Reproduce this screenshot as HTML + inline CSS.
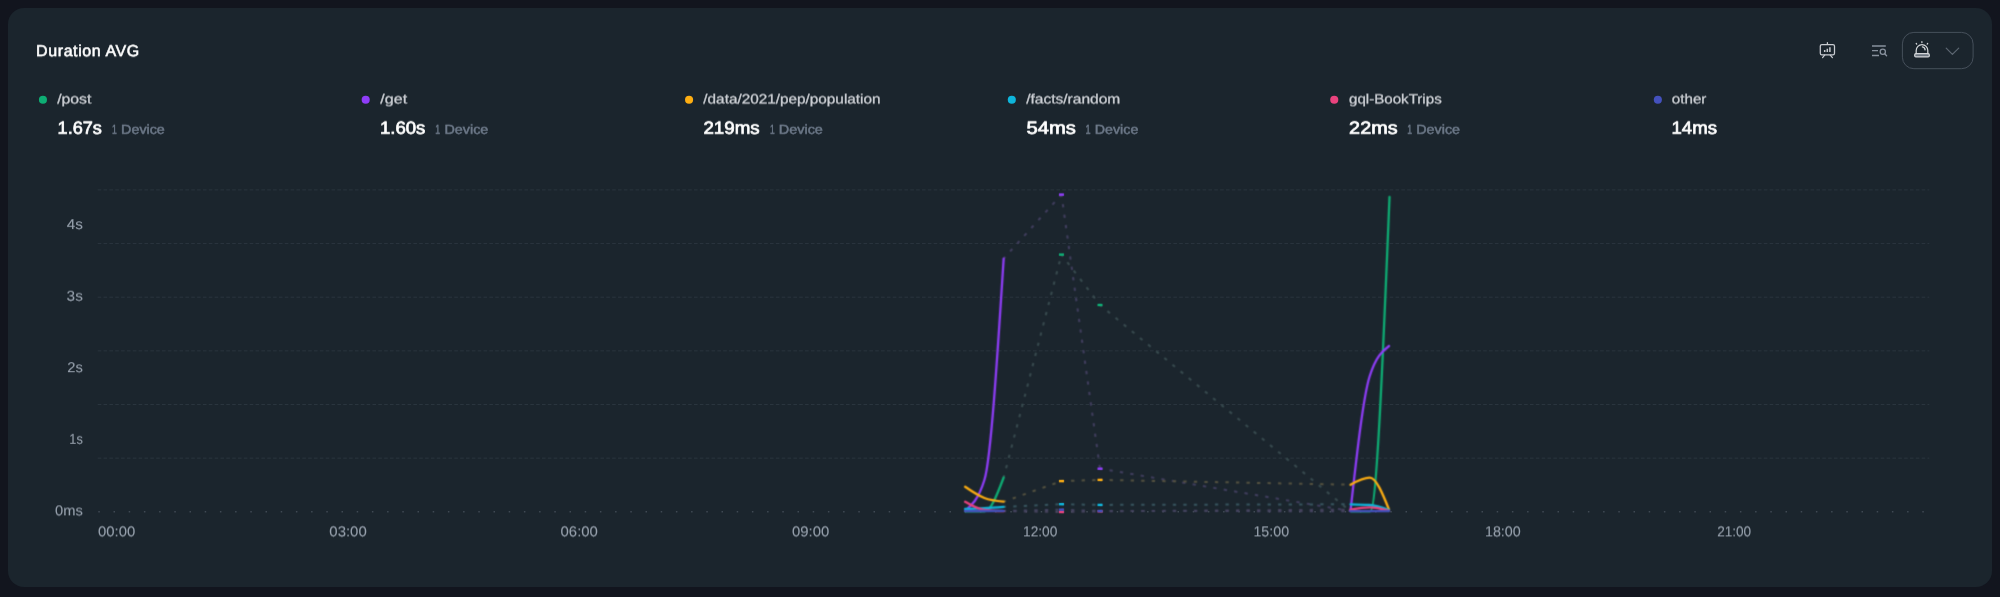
<!DOCTYPE html>
<html lang="en">
<head>
<meta charset="utf-8">
<title>Duration AVG</title>
<style>
*{box-sizing:border-box;margin:0;padding:0}
html,body{width:2000px;height:597px;overflow:hidden;background:#12151e}
body{font-family:"Liberation Sans",Arial,sans-serif;position:relative}
.card{position:absolute;left:7.5px;top:8px;width:1984.8px;height:578.6px;border-radius:16px;background:#1b252d}
svg{position:absolute;left:0;top:0}
text{font-family:"Liberation Sans",Arial,sans-serif;white-space:pre;text-rendering:geometricPrecision}
</style>
</head>
<body>
<div class="card"></div>
<svg width="2000" height="597" viewBox="0 0 2000 597">
<g class="grid">
<line x1="97.7" y1="189.90" x2="1929.3" y2="189.90" stroke="#2a353e" stroke-width="1" stroke-dasharray="3.6 2.246"/>
<line x1="97.7" y1="243.55" x2="1929.3" y2="243.55" stroke="#2a353e" stroke-width="1" stroke-dasharray="3.6 2.246"/>
<line x1="97.7" y1="297.20" x2="1929.3" y2="297.20" stroke="#2a353e" stroke-width="1" stroke-dasharray="3.6 2.246"/>
<line x1="97.7" y1="350.85" x2="1929.3" y2="350.85" stroke="#2a353e" stroke-width="1" stroke-dasharray="3.6 2.246"/>
<line x1="97.7" y1="404.50" x2="1929.3" y2="404.50" stroke="#2a353e" stroke-width="1" stroke-dasharray="3.6 2.246"/>
<line x1="97.7" y1="458.15" x2="1929.3" y2="458.15" stroke="#2a353e" stroke-width="1" stroke-dasharray="3.6 2.246"/>
<line x1="98.3" y1="511.80" x2="1926.0" y2="511.80" stroke="#3f4953" stroke-width="1.5" stroke-dasharray="1.5 13.7"/>
</g>
<g class="series" filter="url(#soft)">
<path d="M1003.67,477.50L1061.47,254.60" fill="none" stroke="#394c50" stroke-width="2.00" stroke-dasharray="3.30 7.23" stroke-dashoffset="0.90"/>
<path d="M1061.47,254.60L1100.01,305.00" fill="none" stroke="#394c50" stroke-width="2.00" stroke-dasharray="3.30 7.23" stroke-dashoffset="0.90"/>
<path d="M1100.01,305.00L1350.49,511.30" fill="none" stroke="#394c50" stroke-width="2.00" stroke-dasharray="3.30 7.23" stroke-dashoffset="0.90"/>
<path d="M1003.67,258.60L1061.47,194.60" fill="none" stroke="#423f60" stroke-width="2.00" stroke-dasharray="3.30 7.23" stroke-dashoffset="0.90"/>
<path d="M1061.47,194.60L1100.01,468.70" fill="none" stroke="#423f60" stroke-width="2.00" stroke-dasharray="3.30 7.23" stroke-dashoffset="0.90"/>
<path d="M1100.01,468.70L1350.49,511.00" fill="none" stroke="#423f60" stroke-width="2.00" stroke-dasharray="3.30 7.23" stroke-dashoffset="0.90"/>
<path d="M1003.67,501.70L1061.47,481.10" fill="none" stroke="#565340" stroke-width="2.00" stroke-dasharray="3.30 7.23" stroke-dashoffset="0.90"/>
<path d="M1061.47,481.10L1100.01,479.90" fill="none" stroke="#565340" stroke-width="2.00" stroke-dasharray="3.30 7.23" stroke-dashoffset="0.90"/>
<path d="M1100.01,479.90L1350.49,484.70" fill="none" stroke="#565340" stroke-width="2.00" stroke-dasharray="3.30 7.23" stroke-dashoffset="0.90"/>
<path d="M1003.67,506.85L1061.47,504.20" fill="none" stroke="#385660" stroke-width="2.00" stroke-dasharray="3.30 7.23" stroke-dashoffset="0.90"/>
<path d="M1061.47,504.20L1100.01,504.90" fill="none" stroke="#385660" stroke-width="2.00" stroke-dasharray="3.30 7.23" stroke-dashoffset="0.90"/>
<path d="M1100.01,504.90L1350.49,504.30" fill="none" stroke="#385660" stroke-width="2.00" stroke-dasharray="3.30 7.23" stroke-dashoffset="0.90"/>
<path d="M1003.67,511.10L1061.47,512.00" fill="none" stroke="#46425c" stroke-width="2.00" stroke-dasharray="3.30 7.23" stroke-dashoffset="0.90"/>
<path d="M1061.47,512.00L1100.01,511.30" fill="none" stroke="#46425c" stroke-width="2.00" stroke-dasharray="3.30 7.23" stroke-dashoffset="0.90"/>
<path d="M1100.01,511.30L1350.49,509.60" fill="none" stroke="#46425c" stroke-width="2.00" stroke-dasharray="3.30 7.23" stroke-dashoffset="0.90"/>
<path d="M1003.67,510.90L1061.47,509.70" fill="none" stroke="#454460" stroke-width="2.00" stroke-dasharray="3.30 7.23" stroke-dashoffset="0.90"/>
<path d="M1061.47,509.70L1100.01,511.00" fill="none" stroke="#454460" stroke-width="2.00" stroke-dasharray="3.30 7.23" stroke-dashoffset="0.90"/>
<path d="M1100.01,511.00L1350.49,511.20" fill="none" stroke="#454460" stroke-width="2.00" stroke-dasharray="3.30 7.23" stroke-dashoffset="0.90"/>
<path d="M965.14,511.30C971.56,511.30,977.98,511.30,984.40,511.30C990.83,511.30,997.25,494.40,1003.67,477.50" fill="none" stroke="#0eae74" stroke-width="2.30" stroke-linecap="round" stroke-linejoin="round"/>
<path d="M1350.99,511.30C1357.41,511.30,1363.83,511.30,1370.25,511.30C1376.68,511.30,1383.10,354.15,1389.52,197.00" fill="none" stroke="#0eae74" stroke-width="2.30" stroke-linecap="round" stroke-linejoin="round"/>
<path d="M965.14,510.60C971.56,505.50,977.98,500.40,984.40,480.00C990.83,459.60,997.25,359.10,1003.67,258.60" fill="none" stroke="#8f3df8" stroke-width="2.30" stroke-linecap="round" stroke-linejoin="round"/>
<path d="M1350.49,511.00C1356.91,453.50,1363.33,396.00,1369.75,376.00C1376.18,356.00,1382.60,351.00,1389.02,346.00" fill="none" stroke="#8f3df8" stroke-width="2.30" stroke-linecap="round" stroke-linejoin="round"/>
<path d="M965.14,486.75C971.56,491.14,977.98,495.53,984.40,498.00C990.83,500.47,997.25,501.08,1003.67,501.70" fill="none" stroke="#feae12" stroke-width="2.30" stroke-linecap="round" stroke-linejoin="round"/>
<path d="M1350.49,484.70C1356.91,481.20,1363.33,477.70,1369.75,477.70C1376.18,477.70,1382.60,493.65,1389.02,509.60" fill="none" stroke="#feae12" stroke-width="2.30" stroke-linecap="round" stroke-linejoin="round"/>
<path d="M965.14,509.00C971.56,508.78,977.98,508.56,984.40,508.20C990.83,507.84,997.25,507.35,1003.67,506.85" fill="none" stroke="#0eb5db" stroke-width="2.30" stroke-linecap="round" stroke-linejoin="round"/>
<path d="M1350.49,504.30C1356.91,504.42,1363.33,504.53,1369.75,505.00C1376.18,505.47,1382.60,507.73,1389.02,510.00" fill="none" stroke="#0eb5db" stroke-width="2.30" stroke-linecap="round" stroke-linejoin="round"/>
<path d="M965.14,501.80C971.56,505.53,977.98,509.27,984.40,510.00C990.83,510.73,997.25,510.92,1003.67,511.10" fill="none" stroke="#ea437e" stroke-width="2.30" stroke-linecap="round" stroke-linejoin="round"/>
<path d="M1350.49,509.60C1356.91,508.50,1363.33,507.40,1369.75,507.40C1376.18,507.40,1382.60,509.10,1389.02,510.80" fill="none" stroke="#ea437e" stroke-width="2.30" stroke-linecap="round" stroke-linejoin="round"/>
<path d="M965.14,511.00C971.56,511.00,977.98,511.00,984.40,511.00C990.83,511.00,997.25,510.95,1003.67,510.90" fill="none" stroke="#4451bd" stroke-width="2.30" stroke-linecap="round" stroke-linejoin="round"/>
<path d="M1350.49,511.20C1356.91,511.15,1363.33,511.10,1369.75,511.10C1376.18,511.10,1382.60,511.10,1389.02,511.10" fill="none" stroke="#4451bd" stroke-width="2.30" stroke-linecap="round" stroke-linejoin="round"/>
</g>
<g class="markers" filter="url(#soft2)">
<rect x="1058.97" y="253.40" width="5.0" height="2.4" fill="#0eae74"/>
<rect x="1097.51" y="303.80" width="5.0" height="2.4" fill="#0eae74"/>
<rect x="1058.97" y="193.40" width="5.0" height="2.4" fill="#8f3df8"/>
<rect x="1097.51" y="467.50" width="5.0" height="2.4" fill="#8f3df8"/>
<rect x="1058.97" y="479.90" width="5.0" height="2.4" fill="#feae12"/>
<rect x="1097.51" y="478.70" width="5.0" height="2.4" fill="#feae12"/>
<rect x="1058.97" y="503.00" width="5.0" height="2.4" fill="#0eb5db"/>
<rect x="1097.51" y="503.70" width="5.0" height="2.4" fill="#0eb5db"/>
<rect x="1058.97" y="510.80" width="5.0" height="2.4" fill="#ea437e"/>
<rect x="1097.51" y="510.10" width="5.0" height="2.4" fill="#ea437e"/>
<rect x="1058.97" y="508.50" width="5.0" height="2.4" fill="#4451bd"/>
<rect x="1097.51" y="509.80" width="5.0" height="2.4" fill="#4451bd"/>
</g>
<g class="legend-dots">
<circle cx="42.95" cy="99.8" r="4.05" fill="#0eae74"/>
<circle cx="365.70" cy="99.8" r="4.05" fill="#8f3df8"/>
<circle cx="689.05" cy="99.8" r="4.05" fill="#feae12"/>
<circle cx="1011.80" cy="99.8" r="4.05" fill="#0eb5db"/>
<circle cx="1334.25" cy="99.8" r="4.05" fill="#ea437e"/>
<circle cx="1657.85" cy="99.8" r="4.05" fill="#4451bd"/>
</g>
<g class="toolbar">
<g fill="none" stroke="#c9ccd1" stroke-width="1.25" stroke-linecap="round" stroke-linejoin="round">
  <rect x="1820.3" y="44.5" width="14.2" height="10.4" rx="1.6"/>
  <path d="M1827.4 42.6V44.4M1824.6 55.2L1822.6 57.6M1830.3 55.2L1832.4 57.6"/>
  <path d="M1824.7 52V50.1M1827.3 52V48.7M1829.9 52V47.3" stroke-width="1.5" stroke-linecap="butt"/>
</g>
<g fill="none" stroke="#88919d" stroke-width="1.3" stroke-linecap="butt">
  <path d="M1872 46H1885.8M1872 50.7H1878M1872 55.5H1879"/>
  <circle cx="1882.8" cy="51.7" r="2.6"/>
  <path d="M1884.7 53.7L1886.6 55.7" stroke-linecap="round"/>
</g>
<rect x="1902.4" y="32.4" width="70.7" height="36.3" rx="11.5" fill="none" stroke="#46505b" stroke-width="1"/>
<g fill="none" stroke="#d3d6d9" stroke-width="1.25" stroke-linecap="round" stroke-linejoin="round">
  <rect x="1914.7" y="53.7" width="14.6" height="3.2" rx="1.2" fill="#6d7680"/>
  <path d="M1916.2 53.6V50.5a5.8 5.8 0 0 1 11.6 0V53.6"/>
  <path d="M1922.4 46.9a3.3 3.3 0 0 1 2.7 3"/>
  <path d="M1921.9 41.7V42.5M1916.2 43.4L1916.7 44.1M1927.7 43.4L1927.2 44.1" />
  <path d="M1946.2 48.1L1952.4 54.4L1958.7 48.1" stroke="#5d6772" stroke-width="1.2"/>
</g>
</g>
<defs>
<filter id="soft" x="900" y="150" width="600" height="400" filterUnits="userSpaceOnUse" color-interpolation-filters="sRGB"><feConvolveMatrix order="3" kernelMatrix="0.0400 0.1200 0.0400 0.1200 0.3600 0.1200 0.0400 0.1200 0.0400" edgeMode="none" preserveAlpha="false"/></filter>
<filter id="soft2" x="1040" y="180" width="80" height="345" filterUnits="userSpaceOnUse" color-interpolation-filters="sRGB"><feConvolveMatrix order="3" kernelMatrix="0.0144 0.0912 0.0144 0.0912 0.5776 0.0912 0.0144 0.0912 0.0144" edgeMode="none" preserveAlpha="false"/></filter>
<filter id="sh1" x="-5%" y="-20%" width="110%" height="150%" color-interpolation-filters="sRGB"><feConvolveMatrix order="1 2" kernelMatrix="0.9 0.1" targetX="0" targetY="1" edgeMode="none" preserveAlpha="false"/></filter>
<filter id="sh2" x="-5%" y="-20%" width="110%" height="150%" color-interpolation-filters="sRGB"><feConvolveMatrix order="1 2" kernelMatrix="0.8 0.2" targetX="0" targetY="1" edgeMode="none" preserveAlpha="false"/></filter>
<filter id="sh4" x="-5%" y="-20%" width="110%" height="150%" color-interpolation-filters="sRGB"><feConvolveMatrix order="1 2" kernelMatrix="0.6 0.4" targetX="0" targetY="1" edgeMode="none" preserveAlpha="false"/></filter>
<filter id="sh5" x="-5%" y="-20%" width="110%" height="150%" color-interpolation-filters="sRGB"><feConvolveMatrix order="1 2" kernelMatrix="0.5 0.5" targetX="0" targetY="1" edgeMode="none" preserveAlpha="false"/></filter>
<filter id="sh7" x="-5%" y="-20%" width="110%" height="150%" color-interpolation-filters="sRGB"><feConvolveMatrix order="1 2" kernelMatrix="0.3 0.7" targetX="0" targetY="1" edgeMode="none" preserveAlpha="false"/></filter>
<filter id="sh8" x="-5%" y="-20%" width="110%" height="150%" color-interpolation-filters="sRGB"><feConvolveMatrix order="1 2" kernelMatrix="0.2 0.8" targetX="0" targetY="1" edgeMode="none" preserveAlpha="false"/></filter>
</defs>
<g class="title" font-size="16.00" fill="#ffffff" stroke="#ffffff" stroke-width="0.55">
<text x="36.11" y="56" textLength="103.04" lengthAdjust="spacing" filter="url(#sh2)">Duration AVG</text>
</g>
<g class="legend-names" font-size="13.50" fill="#cbced3" stroke="#cbced3" stroke-width="0.30">
<text x="57.15" y="103" textLength="34.27" lengthAdjust="spacingAndGlyphs" filter="url(#sh5)">/post</text>
<text x="380.31" y="103" textLength="26.81" lengthAdjust="spacingAndGlyphs" filter="url(#sh5)">/get</text>
<text x="703.35" y="103" textLength="177.15" lengthAdjust="spacingAndGlyphs" filter="url(#sh5)">/data/2021/pep/population</text>
<text x="1026.17" y="103" textLength="94.17" lengthAdjust="spacingAndGlyphs" filter="url(#sh5)">/facts/random</text>
<text x="1349.02" y="103" textLength="92.67" lengthAdjust="spacingAndGlyphs" filter="url(#sh5)">gql-BookTrips</text>
<text x="1671.85" y="103" textLength="34.55" lengthAdjust="spacingAndGlyphs" filter="url(#sh5)">other</text>
</g>
<g class="legend-values" font-size="17.70" fill="#ffffff" stroke="#ffffff" stroke-width="0.70">
<text x="57.60" y="133" textLength="44.35" lengthAdjust="spacingAndGlyphs" filter="url(#sh8)">1.67s</text>
<text x="379.91" y="133" textLength="45.53" lengthAdjust="spacingAndGlyphs" filter="url(#sh8)">1.60s</text>
<text x="703.40" y="133" textLength="56.28" lengthAdjust="spacingAndGlyphs" filter="url(#sh8)">219ms</text>
<text x="1026.45" y="133" textLength="49.35" lengthAdjust="spacingAndGlyphs" filter="url(#sh8)">54ms</text>
<text x="1349.13" y="133" textLength="48.44" lengthAdjust="spacingAndGlyphs" filter="url(#sh8)">22ms</text>
<text x="1671.52" y="133" textLength="45.44" lengthAdjust="spacingAndGlyphs" filter="url(#sh8)">14ms</text>
</g>
<g class="legend-devices" font-size="13.20" fill="#6d7989" stroke="#6d7989" stroke-width="0.50">
<text y="133" filter="url(#sh8)"><tspan x="111.95" textLength="4.82" lengthAdjust="spacingAndGlyphs">1</tspan> <tspan x="121.12" textLength="43.72" lengthAdjust="spacingAndGlyphs">Device</tspan></text>
<text y="133" filter="url(#sh8)"><tspan x="435.33" textLength="4.84" lengthAdjust="spacingAndGlyphs">1</tspan> <tspan x="444.43" textLength="43.93" lengthAdjust="spacingAndGlyphs">Device</tspan></text>
<text y="133" filter="url(#sh8)"><tspan x="769.89" textLength="4.70" lengthAdjust="spacingAndGlyphs">1</tspan> <tspan x="778.76" textLength="44.16" lengthAdjust="spacingAndGlyphs">Device</tspan></text>
<text y="133" filter="url(#sh8)"><tspan x="1085.61" textLength="5.10" lengthAdjust="spacingAndGlyphs">1</tspan> <tspan x="1094.78" textLength="43.56" lengthAdjust="spacingAndGlyphs">Device</tspan></text>
<text y="133" filter="url(#sh8)"><tspan x="1407.34" textLength="4.84" lengthAdjust="spacingAndGlyphs">1</tspan> <tspan x="1416.27" textLength="43.78" lengthAdjust="spacingAndGlyphs">Device</tspan></text>
</g>
<g class="axis-y" font-size="14.30" fill="#98a2ae" stroke="#98a2ae" stroke-width="0.08">
<text x="66.77" y="229" textLength="16.16" lengthAdjust="spacingAndGlyphs" filter="url(#sh1)">4s</text>
<text x="66.60" y="300" textLength="16.25" lengthAdjust="spacingAndGlyphs" filter="url(#sh7)">3s</text>
<text x="67.23" y="372" textLength="15.57" lengthAdjust="spacingAndGlyphs" filter="url(#sh2)">2s</text>
<text x="69.29" y="443" textLength="13.50" lengthAdjust="spacingAndGlyphs" filter="url(#sh8)">1s</text>
<text x="55.08" y="515" textLength="27.82" lengthAdjust="spacingAndGlyphs" filter="url(#sh4)">0ms</text>
</g>
<g class="axis-x" font-size="14.50" fill="#98a2ae" stroke="#98a2ae" stroke-width="0.08">
<text x="97.99" y="536" textLength="37.18" lengthAdjust="spacingAndGlyphs" filter="url(#sh4)">00:00</text>
<text x="329.34" y="536" textLength="37.41" lengthAdjust="spacingAndGlyphs" filter="url(#sh4)">03:00</text>
<text x="560.57" y="536" textLength="37.36" lengthAdjust="spacingAndGlyphs" filter="url(#sh4)">06:00</text>
<text x="791.99" y="536" textLength="37.18" lengthAdjust="spacingAndGlyphs" filter="url(#sh4)">09:00</text>
<text x="1023.01" y="536" textLength="34.39" lengthAdjust="spacingAndGlyphs" filter="url(#sh4)">12:00</text>
<text x="1253.46" y="536" textLength="35.60" lengthAdjust="spacingAndGlyphs" filter="url(#sh4)">15:00</text>
<text x="1484.96" y="536" textLength="35.76" lengthAdjust="spacingAndGlyphs" filter="url(#sh4)">18:00</text>
<text x="1717.15" y="536" textLength="34.05" lengthAdjust="spacingAndGlyphs" filter="url(#sh4)">21:00</text>
</g>
</svg>
</body>
</html>
